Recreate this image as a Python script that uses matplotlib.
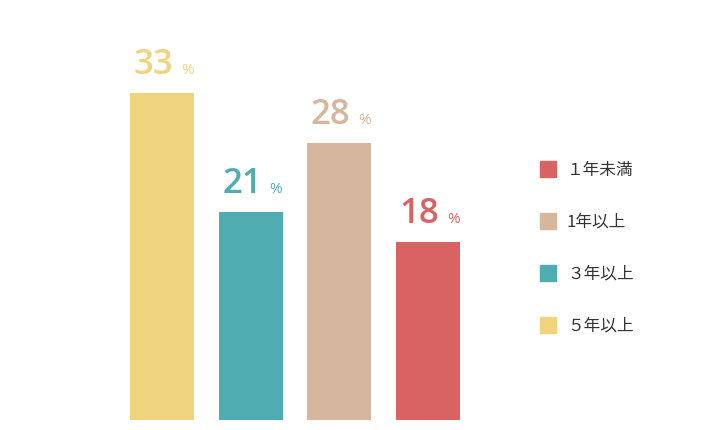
import matplotlib.pyplot as plt
from matplotlib.patches import Rectangle

plt.rcParams['font.family'] = ['Open Sans', 'Noto Sans CJK JP', 'DejaVu Sans']

# bar data, left to right
categories = ['５年以上', '３年以上', '1年以上', '１年未満']
values = [33, 21, 28, 18]
colors = ['#F0D47D', '#4FACB1', '#D6B79E', '#D96263']

# legend runs top to bottom in reverse
legend_labels = categories[::-1]
legend_colors = colors[::-1]

W, H = 701, 431
fig = plt.figure(figsize=(W / 100, H / 100), dpi=100)

# axes in pixel terms: bars centred every 88.5 px, baseline at y=420
ax_left, ax_right = 118, 472
ax_bottom = H - 421
ax = fig.add_axes([ax_left / W, ax_bottom / H, (ax_right - ax_left) / W, 421 / H])
px_per_unit = 9.9
ax.set_xlim(-0.5, 3.5)
ax.set_ylim(0, 421 / px_per_unit)
ax.axis('off')

x = range(len(values))
ax.bar(x, values, width=0.725, color=colors)

for i, v in enumerate(values):
    ax.annotate(str(v), xy=(i, v), xytext=(11, 20), textcoords='offset pixels',
                ha='right', va='baseline', fontsize=25, color=colors[i],
                fontweight='semibold')
    ax.annotate('%', xy=(i, v), xytext=(19, 20), textcoords='offset pixels',
                ha='left', va='baseline', fontsize=11, color=colors[i])

# legend drawn by hand
for k, (lab, col) in enumerate(zip(legend_labels, legend_colors)):
    cy = 170 + 52 * k
    fig.add_artist(Rectangle((540 / W, (H - cy - 8) / H), 16 / W, 16 / H,
                             transform=fig.transFigure, color=col))
    fig.text(567 / W, (H - cy) / H, lab, ha='left', va='center',
             fontsize=12, color='#333333',
             family=['Noto Sans CJK JP', 'DejaVu Sans'])

fig.savefig('out.png', dpi=100)
